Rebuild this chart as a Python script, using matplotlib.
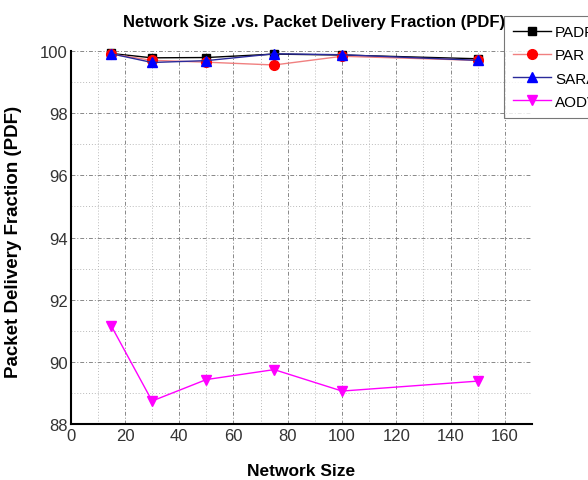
import matplotlib
matplotlib.use("Agg")
import matplotlib.pyplot as plt
from matplotlib.ticker import MultipleLocator

network_size = [15, 30, 50, 75, 100, 150]
padr = [99.92, 99.78, 99.79, 99.90, 99.87, 99.75]
par = [99.90, 99.70, 99.64, 99.55, 99.83, 99.70]
sara = [99.91, 99.63, 99.69, 99.91, 99.88, 99.70]
aodv = [91.15, 88.74, 89.43, 89.75, 89.06, 89.38]

series = [
    ("PADR", padr, dict(color="black", marker="s", mfc="black", mec="black", ms=6)),
    ("PAR", par, dict(color="#f08080", marker="o", mfc="red", mec="red", ms=7)),
    ("SARA", sara, dict(color="#2a2a9a", marker="^", mfc="blue", mec="blue", ms=7)),
    ("AODV", aodv, dict(color="magenta", marker="v", mfc="magenta", mec="magenta", ms=7)),
]

plt.rcParams['font.family'] = ['Liberation Sans', 'DejaVu Sans']

fig = plt.figure(figsize=(5.88, 4.81), dpi=100)
ax = fig.add_axes([0.1202, 0.1164, 0.7845, 0.7755])

for name, vals, st in series:
    ax.plot(network_size, vals, lw=1.0, label=name, clip_on=False, zorder=3, **st)

ax.set_xlim(0, 170)
ax.set_ylim(88, 100)
ax.xaxis.set_major_locator(MultipleLocator(20))
ax.xaxis.set_minor_locator(MultipleLocator(10))
ax.yaxis.set_major_locator(MultipleLocator(2))
ax.yaxis.set_minor_locator(MultipleLocator(1))
ax.set_xticks([0, 20, 40, 60, 80, 100, 120, 140, 160])

ax.grid(which="major", linestyle=(0, (4, 2, 1, 2)), color="#888888", lw=0.7)
ax.grid(which="minor", linestyle=(0, (1, 2)), color="#bbbbbb", lw=0.7)
ax.set_axisbelow(True)

for s in ["top", "right"]:
    ax.spines[s].set_visible(False)
ax.spines["left"].set_linewidth(1.5)
ax.spines["bottom"].set_linewidth(1.5)
ax.tick_params(which="both", direction="in", length=0, labelsize=12, colors="#333333", pad=2)
ax.tick_params(axis="x", pad=3)

ax.set_title("Network Size .vs. Packet Delivery Fraction (PDF)", fontsize=12,
             fontweight="bold", pad=18, x=0.527)
ax.set_xlabel("Network Size", fontsize=12.5, fontweight="bold", labelpad=14)
ax.set_ylabel("Packet Delivery Fraction (PDF)", fontsize=13.5, fontweight="bold")
ax.yaxis.set_label_coords(-0.105, 0.49)

leg = fig.legend(loc="upper left", bbox_to_anchor=(504 / 588, 1 - 17 / 481),
                 frameon=True, fancybox=False, fontsize=11, handlelength=2.5,
                 handletextpad=0.25, labelspacing=0.6, borderpad=0.6, borderaxespad=0)
leg.get_frame().set_edgecolor("#555555")
leg.get_frame().set_linewidth(0.8)

fig.savefig("out.png", dpi=100)
